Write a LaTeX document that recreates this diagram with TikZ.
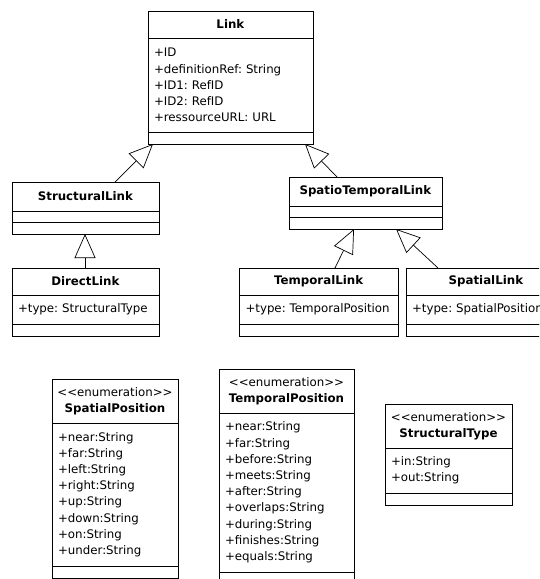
\documentclass[tikz,border=0pt]{standalone}
\usepackage{fontspec}
\setmainfont{DejaVu Sans}
\usetikzlibrary{arrows.meta}
\newcommand{\stereo}[1]{<\kern0pt<#1>\kern0pt>}
\tikzset{
  part/.style={draw, line width=0.8pt, outer sep=0pt, inner sep=0pt, anchor=north west},
  head/.style={part, align=center},
  attrs/.style={part, align=left, inner xsep=6pt},
  inherit/.style={-{Triangle[open, length=24pt, width=21pt]}, line width=0.7pt},
}
\begin{document}
\begin{tikzpicture}[x=1pt, y=-1pt, font=\fontsize{11.8}{16.2}\selectfont\frenchspacing]
    \useasboundingbox (0,0) rectangle (539,579);
    \clip (0,0) rectangle (539,579);
    % Link
    \node[head, minimum width=165pt, minimum height=27pt] (link-t) at (148,11) {\textbf{Link}};
    \node[attrs, minimum width=165pt, minimum height=94pt, text width=153pt] (link-a) at (link-t.south west) {+ID\\+definitionRef: String\\+ID1: RefID\\+ID2: RefID\\+ressourceURL: URL};
    \node[part, minimum width=165pt, minimum height=12pt] (link-o) at (link-a.south west) {};
    % StructuralLink
    \node[head, minimum width=147pt, minimum height=29pt] (structural-t) at (12,182) {\textbf{StructuralLink}};
    \node[part, minimum width=147pt, minimum height=11pt] (structural-a) at (structural-t.south west) {};
    \node[part, minimum width=147pt, minimum height=12pt] (structural-o) at (structural-a.south west) {};
    % SpatioTemporalLink
    \node[head, minimum width=153pt, minimum height=29pt] (spatio-t) at (289,177) {\textbf{SpatioTemporalLink}};
    \node[part, minimum width=153pt, minimum height=11pt] (spatio-a) at (spatio-t.south west) {};
    \node[part, minimum width=153pt, minimum height=12pt] (spatio-o) at (spatio-a.south west) {};
    % DirectLink
    \node[head, minimum width=147pt, minimum height=27pt] (direct-t) at (12,268) {\textbf{DirectLink}};
    \node[attrs, minimum width=147pt, minimum height=29pt, text width=135pt] (direct-a) at (direct-t.south west) {+type: StructuralType};
    \node[part, minimum width=147pt, minimum height=12pt] (direct-o) at (direct-a.south west) {};
    % TemporalLink
    \node[head, minimum width=158.5pt, minimum height=27pt] (temporal-t) at (239.5,268) {\textbf{TemporalLink}};
    \node[attrs, minimum width=158.5pt, minimum height=29pt, text width=146.5pt] (temporal-a) at (temporal-t.south west) {+type: TemporalPosition};
    \node[part, minimum width=158.5pt, minimum height=12pt] (temporal-o) at (temporal-a.south west) {};
    % SpatialLink
    \node[head, minimum width=160pt, minimum height=27pt] (spatial-t) at (406,268) {\textbf{SpatialLink}};
    \node[attrs, minimum width=160pt, minimum height=29pt, text width=148pt] (spatial-a) at (spatial-t.south west) {+type: SpatialPosition};
    \node[part, minimum width=160pt, minimum height=12pt] (spatial-o) at (spatial-a.south west) {};
    % generalisations
    \draw[inherit] ([xshift=103pt]structural-t.north west) -- ([xshift=5pt]link-o.south west);
    \draw[inherit] ([xshift=48pt]spatio-t.north west) -- ([xshift=-8pt]link-o.south east);
    \draw[inherit] ([xshift=73pt]direct-t.north west) -- ([xshift=73pt]structural-o.south west);
    \draw[inherit] ([xshift=95.5pt]temporal-t.north west) -- ([xshift=65pt]spatio-o.south west);
    \draw[inherit] ([xshift=32pt]spatial-t.north west) -- ([xshift=-46pt]spatio-o.south east);
    % enumeration SpatialPosition
    \node[head, minimum width=126pt, minimum height=44pt] (spatialpos-t) at (52,379) {\stereo{enumeration}\\\textbf{SpatialPosition}};
    \node[attrs, minimum width=126pt, minimum height=143pt, text width=114pt] (spatialpos-a) at (spatialpos-t.south west) {+near:String\\+far:String\\+left:String\\+right:String\\+up:String\\+down:String\\+on:String\\+under:String};
    \node[part, minimum width=126pt, minimum height=12pt] (spatialpos-o) at (spatialpos-a.south west) {};
    % enumeration TemporalPosition
    \node[head, minimum width=135pt, minimum height=44pt] (temporalpos-t) at (219,369) {\stereo{enumeration}\\\textbf{TemporalPosition}};
    \node[attrs, minimum width=135pt, minimum height=159pt, text width=123pt] (temporalpos-a) at (temporalpos-t.south west) {+near:String\\+far:String\\+before:String\\+meets:String\\+after:String\\+overlaps:String\\+during:String\\+finishes:String\\+equals:String};
    \node[part, minimum width=135pt, minimum height=12pt] (temporalpos-o) at (temporalpos-a.south west) {};
    % enumeration StructuralType
    \node[head, minimum width=127pt, minimum height=44pt] (structtype-t) at (385,404) {\stereo{enumeration}\\\textbf{StructuralType}};
    \node[attrs, minimum width=127pt, minimum height=45pt, text width=115pt] (structtype-a) at (structtype-t.south west) {+in:String\\+out:String};
    \node[part, minimum width=127pt, minimum height=12pt] (structtype-o) at (structtype-a.south west) {};
\end{tikzpicture}
\end{document}
